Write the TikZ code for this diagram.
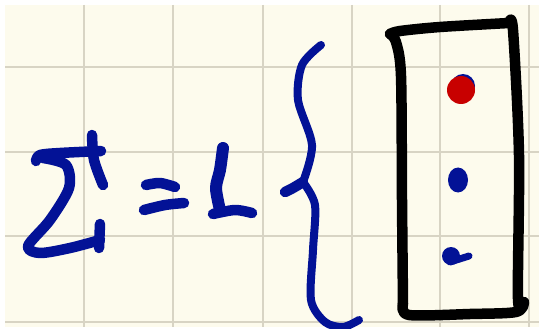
\documentclass[tikz,border=0pt]{standalone}
\usetikzlibrary{calc}
\definecolor{paper}{RGB}{253,251,237}
\definecolor{gridline}{RGB}{216,212,196}
\definecolor{inkblue}{RGB}{3,18,150}
\definecolor{inkred}{RGB}{200,0,0}
\tikzset{
  pen/.style={
    line width=10.5pt,
    line cap=round,
    line join=round
  },
  ink-blue/.style={pen, draw=inkblue},
  ink-black/.style={pen, draw=black},
  grid-line/.style={line width=2.5pt, draw=gridline}
}
\newcommand{\notepaper}{%
  \useasboundingbox (0,0) rectangle (539,329);
  \fill[white] (0,0) rectangle (539,329);
  \fill[paper] (5,5) rectangle (539,327);
  \foreach \gx in {84,173,263,352,440,529}
    \draw[grid-line] (\gx,5) -- (\gx,327);
  \foreach \gy in {67,152,236,322}
    \draw[grid-line] (5,\gy) -- (539,\gy);
}

\begin{document}
\begin{tikzpicture}[x=1pt,y=-1pt]
  \notepaper
  % sigma
  \draw[ink-blue] plot[smooth] coordinates {(36,161) (40,155) (60,153) (101,151)};
  \draw[ink-blue] plot[smooth] coordinates {(92,135) (94,160) (103,185)};
  \draw[ink-blue] plot[smooth] coordinates {(43,158) (66,165) (69,188) (50,220) (28,246) (40,253) (70,248) (100,240)};
  \draw[ink-blue] (100,224) -- (99,248);
  % equals sign
  \draw[ink-blue] plot[smooth] coordinates {(146,185) (160,183) (175,187)};
  \draw[ink-blue] plot[smooth] coordinates {(144,210) (165,205) (184,203)};
  % one
  \draw[ink-blue, line width=12pt] plot[smooth] coordinates {(223,148) (220,170) (216,188) (220,210)};
  \draw[ink-blue] plot[smooth] coordinates {(213,214) (235,210) (252,213)};
  % brace
  \draw[ink-blue, line width=8pt] plot[smooth] coordinates {(321,45) (302,65) (298,100) (312,145) (303,182)};
  \draw[ink-blue] plot[smooth] coordinates {(285,192) (293,188) (303,182)};
  \draw[ink-blue, line width=8pt] plot[smooth] coordinates {(303,182) (315,205) (313,250) (311,300) (325,322) (343,327) (359,320)};
  % box
  \draw[ink-black] plot[smooth] coordinates {(390,34) (400,31) (440,27) (509,23)};
  \draw[ink-black] plot[smooth] coordinates {(509,23) (513,30) (519,155) (518,299) (524,302) (516,312) (470,314) (409,315) (403,304)};
  \draw[ink-black] plot[smooth] coordinates {(403,304) (402,200) (401,76) (396,42) (390,34)};
  % dots
  \fill[inkblue] (463,86) circle (12pt);
  \fill[inkred] (461,90) circle (14pt);
  \fill[inkblue] (458,180) ellipse (10pt and 12.5pt);
  \fill[inkblue] (451,256) circle (9pt);
  \draw[ink-blue, line width=7pt] (450,262) -- (469,256);
\end{tikzpicture}
\end{document}
